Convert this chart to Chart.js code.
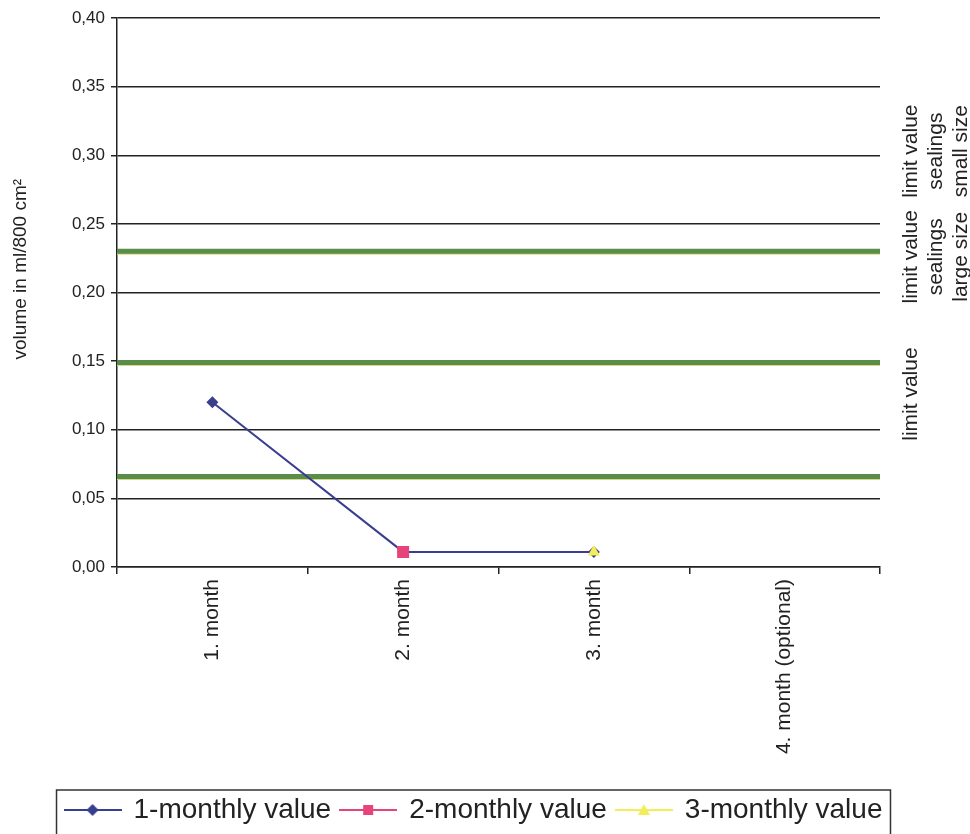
<!DOCTYPE html>
<html>
<head>
<meta charset="utf-8">
<script src="https://cdn.jsdelivr.net/npm/chart.js@4.4.1/dist/chart.umd.min.js"></script>
<style>
    html, body { margin: 0; padding: 0; background: #fff; }
    #wrap { width: 970px; height: 834px; }
</style>
</head>
<body>
<div id="wrap"><canvas id="chart" width="970" height="834"></canvas></div>
<script>
// Données
const categories = ["1. month", "2. month", "3. month", "4. month (optional)"];
const monthly1 = [0.12, 0.011, 0.011, null];
const monthly2 = [null, 0.011, null, null];
const monthly3 = [null, null, 0.011, null];
const limitValues = [0.23, 0.149, 0.066];
const limitLabels = [
    ["limit value", "sealings", "small size"],
    ["limit value", "sealings", "large size"],
    ["limit value"],
];
const yTicks = [0, 0.05, 0.1, 0.15, 0.2, 0.25, 0.3, 0.35, 0.4];
const yTitle = "volume in ml/800 cm²";

const FONT = "'Liberation Sans', Arial, sans-serif";
const TEXT = "#222";
const BLUE = "#3a3e8e";
const PINK = "#e8447c";
const YELLOW = "#f2ee5a";
const GREEN = "#5a8c4c";

// Petite image ligne + marqueur pour la légende
function legendIcon(color, shape) {
    const c = document.createElement("canvas");
    c.width = 58;
    c.height = 24;
    const g = c.getContext("2d");
    g.strokeStyle = color;
    g.lineWidth = 2;
    g.beginPath();
    g.moveTo(0, 12);
    g.lineTo(58, 12);
    g.stroke();
    g.fillStyle = color;
    g.beginPath();
    if (shape === "diamond") {
        g.moveTo(29, 6); g.lineTo(35, 12); g.lineTo(29, 18); g.lineTo(23, 12);
    } else if (shape === "square") {
        g.rect(24, 7, 10, 10);
    } else {
        g.moveTo(29, 6); g.lineTo(35, 17); g.lineTo(23, 17);
    }
    g.closePath();
    g.fill();
    return c;
}

// Lignes de valeurs limites, textes à droite, titre de l'axe et cadre de légende
const limitPlugin = {
    id: "limits",
    afterLayout(chart) {
        // la légende est un peu décalée vers la droite dans l'original
        const lg = chart.legend;
        lg.left += 34;
        lg.right += 34;
    },
    beforeDatasetsDraw(chart) {
        const { ctx, chartArea, scales } = chart;
        ctx.save();
        limitValues.forEach((v) => {
            const y = scales.y.getPixelForValue(v);
            ctx.strokeStyle = "#d6dc86";
            ctx.lineWidth = 2;
            ctx.beginPath();
            ctx.moveTo(chartArea.left, y + 2.5);
            ctx.lineTo(chartArea.right, y + 2.5);
            ctx.stroke();
            ctx.strokeStyle = GREEN;
            ctx.lineWidth = 5;
            ctx.beginPath();
            ctx.moveTo(chartArea.left, y);
            ctx.lineTo(chartArea.right, y);
            ctx.stroke();
        });
        ctx.restore();
    },
    afterDraw(chart) {
        const { ctx, chartArea, scales } = chart;
        const labelPos = [0.303, 0.226, 0.126];
        ctx.save();
        ctx.fillStyle = TEXT;
        ctx.textAlign = "center";
        ctx.textBaseline = "middle";
        ctx.font = "21px " + FONT;
        limitLabels.forEach((lines, i) => {
            const y = scales.y.getPixelForValue(labelPos[i]);
            lines.forEach((txt, j) => {
                ctx.save();
                ctx.translate(chartArea.right + 31 + j * 25, y);
                ctx.rotate(-Math.PI / 2);
                ctx.fillText(txt, 0, 0);
                ctx.restore();
            });
        });
        // titre de l'axe y
        ctx.font = "19px " + FONT;
        ctx.save();
        ctx.translate(21, scales.y.getPixelForValue(0.217));
        ctx.rotate(-Math.PI / 2);
        ctx.fillText(yTitle, 0, 0);
        ctx.restore();
        // cadre de la légende
        const boxes = chart.legend.legendHitBoxes;
        if (boxes && boxes.length) {
            const left = Math.min(...boxes.map(b => b.left)) - 9;
            const right = Math.max(...boxes.map(b => b.left + b.width)) + 8;
            const top = boxes[0].top - 6;
            ctx.strokeStyle = "#333";
            ctx.lineWidth = 1.5;
            ctx.strokeRect(left, top, right - left, 80);
        }
        ctx.restore();
    },
};

new Chart(document.getElementById("chart"), {
    type: "line",
    data: {
        labels: categories,
        datasets: [
            {
                label: "1-monthly value",
                data: monthly1,
                borderColor: BLUE,
                backgroundColor: BLUE,
                borderWidth: 2,
                pointStyle: "rectRot",
                pointRadius: 6,
                pointBorderWidth: 0,
                tension: 0,
                order: 3,
                icon: legendIcon(BLUE, "diamond"),
            },
            {
                label: "2-monthly value",
                data: monthly2,
                borderColor: PINK,
                backgroundColor: PINK,
                pointStyle: "rect",
                pointRadius: 8.5,
                pointBorderWidth: 0,
                order: 2,
                icon: legendIcon(PINK, "square"),
            },
            {
                label: "3-monthly value",
                data: monthly3,
                borderColor: YELLOW,
                backgroundColor: YELLOW,
                pointStyle: "triangle",
                pointRadius: 7,
                pointBorderWidth: 0,
                order: 1,
                icon: legendIcon(YELLOW, "triangle"),
            },
        ],
    },
    options: {
        responsive: false,
        animation: false,
        layout: { padding: { top: 18, right: 90, left: 0, bottom: 0 } },
        plugins: {
            tooltip: { enabled: false },
            legend: {
                position: "bottom",
                labels: {
                    usePointStyle: true,
                    pointStyleWidth: 54,
                    color: TEXT,
                    font: { family: FONT, size: 28 },
                    padding: 10,
                    generateLabels(chart) {
                        return chart.data.datasets.map((ds, i) => ({
                            text: ds.label,
                            pointStyle: ds.icon,
                            fillStyle: ds.borderColor,
                            strokeStyle: ds.borderColor,
                            lineWidth: 0,
                            hidden: false,
                            datasetIndex: i,
                            fontColor: TEXT,
                        }));
                    },
                },
            },
        },
        scales: {
            x: {
                offset: true,
                afterFit(scale) { scale.height = 219; },
                grid: {
                    offset: true,
                    drawOnChartArea: false,
                    drawTicks: true,
                    tickLength: 7,
                    color: TEXT,
                    lineWidth: 1.5,
                },
                border: { color: TEXT, width: 1.5 },
                ticks: {
                    maxRotation: 90,
                    minRotation: 90,
                    color: TEXT,
                    padding: 5,
                    font: { family: FONT, size: 21 },
                },
            },
            y: {
                min: 0,
                max: 0.4,
                afterFit(scale) { scale.width = 117; },
                afterBuildTicks(scale) { scale.ticks = yTicks.map(v => ({ value: v })); },
                grid: {
                    color: TEXT,
                    lineWidth: 1.5,
                    tickLength: 6,
                },
                border: { color: TEXT, width: 1.5 },
                ticks: {
                    color: TEXT,
                    padding: 6,
                    font: { family: FONT, size: 17 },
                    callback: (v) => Number(v).toFixed(2).replace(".", ","),
                },
            },
        },
    },
    plugins: [limitPlugin],
});
</script>
</body>
</html>
